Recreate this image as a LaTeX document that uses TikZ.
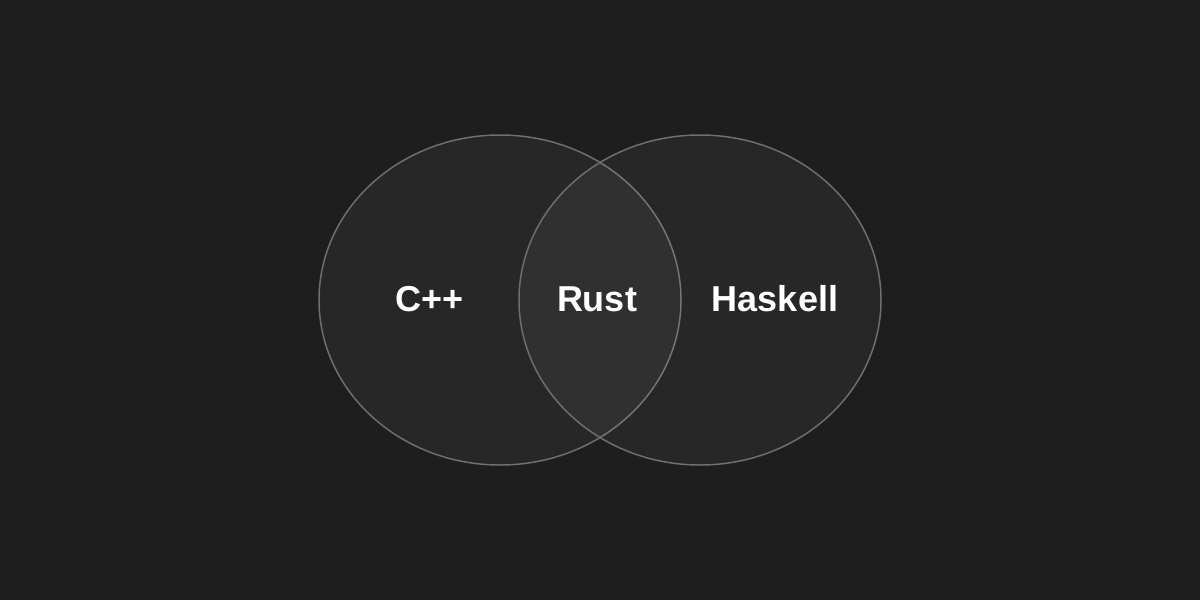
\documentclass[tikz,border=0pt]{standalone}
\usepackage{fontspec}
\setmainfont{Liberation Sans}
\definecolor{bg}{HTML}{1E1E1E}
\definecolor{rim}{HTML}{6E6E6E}
\begin{document}
\begin{tikzpicture}[x=1pt,y=-1pt,
  setc/.style={draw=rim,line width=1.5pt,fill=white,fill opacity=0.045,draw opacity=1},
  lbl/.style={text=white,font=\fontsize{36}{42}\selectfont\bfseries,inner sep=0pt,anchor=center,text opacity=1}]
\fill[bg] (0,0) rectangle (1200,600);
\useasboundingbox (0,0) rectangle (1200,600);
\path[setc] (500,300) ellipse [x radius=181, y radius=165];
\path[setc] (700,300) ellipse [x radius=181, y radius=165];
\node[lbl] (cpp) at (430,299) {C++};
\node[lbl] (rust) at (597,299) {Rust};
\node[lbl] (hask) at (775,299) {Haskell};
\end{tikzpicture}
\end{document}
